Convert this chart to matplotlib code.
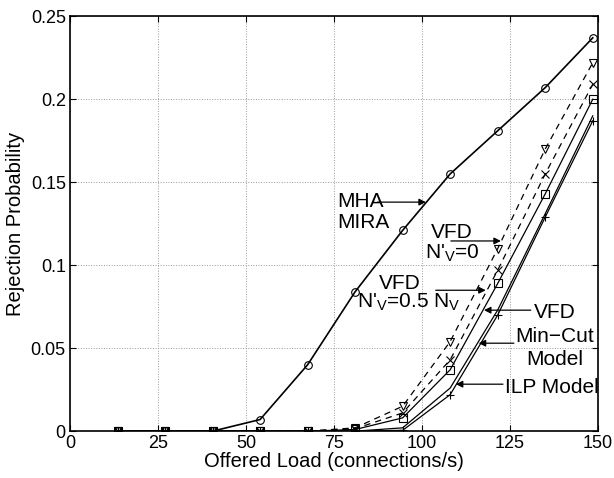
import matplotlib
matplotlib.use('Agg')
import matplotlib.pyplot as plt

plt.rcParams['font.family'] = ['Liberation Sans', 'DejaVu Sans']
plt.rcParams['mathtext.default'] = 'regular'

# Offered load points (connections/s)
load = [13.5, 27, 40.5, 54, 67.5, 81, 94.5, 108, 121.5, 135, 148.5]

# Rejection probability per scheme
mha_mira = [0, 0, 0, 0.007, 0.040, 0.084, 0.121, 0.155, 0.181, 0.207, 0.237]
vfd_n0 = [0, 0, 0, 0, 0, 0.002, 0.015, 0.054, 0.110, 0.170, 0.222]
vfd_n05 = [0, 0, 0, 0, 0, 0.0015, 0.011, 0.043, 0.097, 0.155, 0.209]
vfd_mincut = [0, 0, 0, 0, 0, 0.001, 0.008, 0.037, 0.089, 0.143, 0.200]
mincut_model = [0, 0, 0, 0, 0, 0, 0.002, 0.026, 0.073, 0.131, 0.190]
ilp_model = [0, 0, 0, 0, 0, 0, 0.0005, 0.022, 0.070, 0.129, 0.187]

xticks = [0, 25, 50, 75, 100, 125, 150]
yticks = [0, 0.05, 0.1, 0.15, 0.2, 0.25]
yticklabels = ['0', '0.05', '0.1', '0.15', '0.2', '0.25']

fig = plt.figure(figsize=(6.14, 4.78), dpi=100)
ax = fig.add_axes([0.114, 0.098, 0.860, 0.868])

mk = dict(markersize=5.5, markerfacecolor='none', markeredgecolor='k', markeredgewidth=0.8)
ax.plot(load, mha_mira, 'k-', marker='o', lw=1.2, **mk)
ax.plot(load, vfd_n0, 'k--', marker='v', lw=0.9, dashes=(5, 4), **mk)
ax.plot(load, vfd_n05, 'k--', marker='x', lw=0.9, dashes=(5, 4), **mk)
ax.plot(load, vfd_mincut, 'k-', marker='s', lw=0.9, **mk)
ax.plot(load, mincut_model, 'k-', lw=0.9)
ax.plot(load, ilp_model, 'k-', marker='+', lw=0.9, **mk)

ax.set_xlim(0, 150)
ax.set_ylim(0, 0.25)
ax.set_xticks(xticks)
ax.set_yticks(yticks)
ax.set_yticklabels(yticklabels)
ax.tick_params(direction='in', length=4, width=0.8, labelsize=13, top=True, right=True)
ax.tick_params(axis='x', pad=3)
ax.tick_params(axis='y', pad=3)
ax.grid(True, linestyle=':', color='0.6', linewidth=0.7)
for s in ax.spines.values():
    s.set_linewidth(1.2)

ax.set_xlabel('Offered Load (connections/s)', fontsize=14.5, labelpad=0)
ax.set_ylabel('Rejection Probability', fontsize=14.5, labelpad=4)

fs = 15
arrow = dict(arrowstyle='-|>', color='k', lw=0.9, mutation_scale=10, shrinkA=0, shrinkB=0)

ax.text(76, 0.132, 'MHA\nMIRA', fontsize=fs, ha='left', va='center', linespacing=1.15)
ax.annotate('', xy=(101.1, 0.138), xytext=(87.4, 0.138), arrowprops=arrow)

ax.text(108.5, 0.1161, 'VFD', fontsize=fs, ha='center', va='baseline')
ax.text(108.5, 0.104, "N'$_V$=0", fontsize=fs, ha='center', va='baseline')
ax.annotate('', xy=(122.4, 0.1146), xytext=(108.2, 0.1146), arrowprops=arrow)

ax.text(93.7, 0.0855, 'VFD', fontsize=fs, ha='center', va='baseline')
ax.text(96.1, 0.0745, "N'$_V$=0.5 N$_V$", fontsize=fs, ha='center', va='baseline')
ax.annotate('', xy=(118.1, 0.0849), xytext=(103.9, 0.0849), arrowprops=arrow)

ax.text(137.8, 0.0681, 'VFD', fontsize=fs, ha='center', va='baseline')
ax.text(137.8, 0.0536, 'Min\u2212Cut', fontsize=fs, ha='center', va='baseline')
ax.text(137.8, 0.0398, 'Model', fontsize=fs, ha='center', va='baseline')
ax.annotate('', xy=(117.6, 0.0729), xytext=(130.9, 0.0729), arrowprops=arrow)
ax.annotate('', xy=(116.1, 0.053), xytext=(126.1, 0.053), arrowprops=arrow)

ax.text(123.5, 0.0229, 'ILP Model', fontsize=fs, ha='left', va='baseline')
ax.annotate('', xy=(109.6, 0.0283), xytext=(123.0, 0.0283), arrowprops=arrow)

fig.savefig('out.png', dpi=100)
